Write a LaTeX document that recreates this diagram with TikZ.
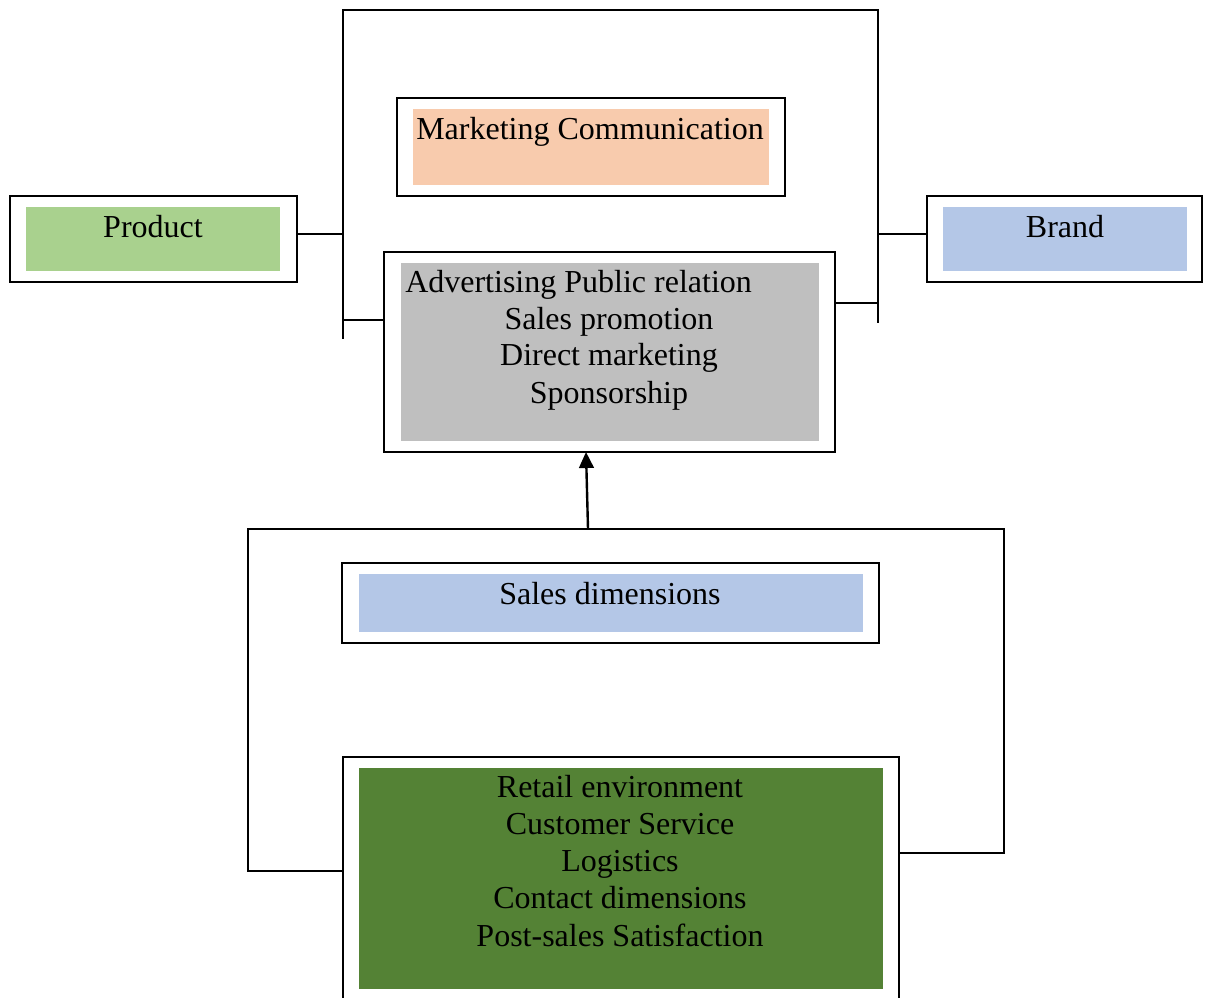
\documentclass[tikz,border=0pt]{standalone}
\usepackage{fontspec}
\setmainfont{Liberation Serif}
\usetikzlibrary{arrows.meta}
\definecolor{prodgreen}{HTML}{A9D18E}
\definecolor{peach}{HTML}{F8CBAD}
\definecolor{paleblue}{HTML}{B4C7E7}
\definecolor{midgray}{HTML}{BFBFBF}
\definecolor{darkgreen}{HTML}{548235}
\tikzset{
  outerbox/.style={draw=black, line width=1.3pt, fill=white, inner sep=0pt},
  innerbox/.style={draw=none, inner sep=0pt},
  txt/.style={inner sep=0pt, anchor=base, font=\fontsize{24}{27.75}\selectfont},
  wire/.style={line width=1.3pt, line cap=rect, line join=miter},
}
\begin{document}
\begin{tikzpicture}[x=0.75pt, y=-0.75pt]
\useasboundingbox (0,0) rectangle (1205,997);

% upper frame
\coordinate (tfTL) at (343,10);
\coordinate (tfTR) at (878,10);
\coordinate (tfL) at (343,338);
\coordinate (tfR) at (878,322);
\draw[wire] (tfL) -- (tfTL) -- (tfTR) -- (tfR);

% lower frame
\coordinate (lfTL) at (248,529);
\coordinate (lfTR) at (1004,529);
\coordinate (lfL) at (248,871);
\coordinate (lfR) at (1004,853);
\draw[wire] (lfL) -- (lfTL) -- (lfTR) -- (lfR);

% Product
\node[outerbox, minimum width=215.25pt, minimum height=64.5pt] (prodOut) at (153.5,239) {};
\node[innerbox, fill=prodgreen, minimum width=190.5pt, minimum height=48pt] (prodIn) at (153,239) {};
\node[txt] (prodTxt) at (153,237) {Product};

% Marketing Communication
\node[outerbox, minimum width=291pt, minimum height=73.5pt] (mcOut) at (591,147) {};
\node[innerbox, fill=peach, minimum width=267pt, minimum height=57pt] (mcIn) at (591,147) {};
\node[txt] (mcTxt) at (590,139) {Marketing Communication};

% Brand
\node[outerbox, minimum width=206.25pt, minimum height=64.5pt] (brandOut) at (1064.5,239) {};
\node[innerbox, fill=paleblue, minimum width=183pt, minimum height=48pt] (brandIn) at (1065,239) {};
\node[txt] (brandTxt) at (1065,237) {Brand};

% communication tools
\node[outerbox, minimum width=338.25pt, minimum height=150pt] (advOut) at (609.5,352) {};
\node[innerbox, fill=midgray, minimum width=313.5pt, minimum height=133.5pt] (advIn) at (610,352) {};
\node[txt, anchor=base west] (advL1) at (405,292) {Advertising Public relation};
\node[txt] (advL2) at (609,329) {Sales promotion};
\node[txt] (advL3) at (609,365) {Direct marketing};
\node[txt] (advL4) at (609,403) {Sponsorship};

% Sales dimensions
\node[outerbox, minimum width=402.75pt, minimum height=60pt] (sdOut) at (610.5,603) {};
\node[innerbox, fill=paleblue, minimum width=378pt, minimum height=43.5pt] (sdIn) at (611,603) {};
\node[txt] (sdTxt) at (610,604) {Sales dimensions};

% contact dimensions
\node[outerbox, minimum width=417pt, minimum height=186pt] (retOut) at (621,881) {};
\node[innerbox, fill=darkgreen, minimum width=393pt, minimum height=165.75pt] (retIn) at (621,878.5) {};
\node[txt] (retL1) at (620,797) {Retail environment};
\node[txt] (retL2) at (620,834) {Customer Service};
\node[txt] (retL3) at (620,871) {Logistics};
\node[txt] (retL4) at (620,908) {Contact dimensions};
\node[txt] (retL5) at (620,946) {Post-sales Satisfaction};

% connectors
\coordinate (pj) at (343,234);
\draw[wire] (prodOut.east |- pj) -- (pj);
\coordinate (bj) at (878,234);
\draw[wire] (bj) -- (bj -| brandOut.west);
\coordinate (aj) at (343,320);
\draw[wire] (aj) -- (aj -| advOut.west);
\coordinate (ajr) at (878,303);
\draw[wire] (ajr -| advOut.east) -- (ajr);
\draw[wire] (lfL) -- (lfL -| retOut.west);
\draw[wire] (lfR -| retOut.east) -- (lfR);

% upward arrow
\coordinate (arrBase) at (588,529);
\coordinate (arrTip) at (586,452);
\draw[line width=1.8pt, -{Triangle[width=11pt,length=12pt]}] (arrBase) -- (arrTip);
\end{tikzpicture}
\end{document}
